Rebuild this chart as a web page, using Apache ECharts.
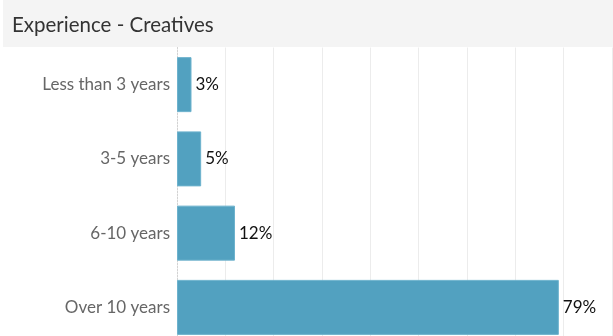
<!DOCTYPE html>
<html>
<head>
<meta charset="utf-8">
<script src="https://cdn.jsdelivr.net/npm/echarts@6/dist/echarts.min.js"></script>
<style>
  html, body { margin: 0; padding: 0; background: #fff; }
  #chart { width: 613px; height: 336px; }
</style>
</head>
<body>
<div id="chart"></div>
<script>
// Years of experience among creatives, share of respondents (%)
const categories = ['Less than 3 years', '3-5 years', '6-10 years', 'Over 10 years'];
const shares = [3, 5, 12, 79];
const axisMax = 90;
const axisStep = 10;

const chart = echarts.init(document.getElementById('chart'), null, { renderer: 'canvas' });

chart.setOption({
  animation: false,
  backgroundColor: '#ffffff',
  graphic: [{
    type: 'rect',
    shape: { x: 3, y: 0, width: 610, height: 47 },
    style: { fill: '#f4f4f4' },
    z: 0
  }],
  title: {
    text: 'Experience - Creatives',
    left: 7,
    top: 10,
    textStyle: {
      fontFamily: 'Lato',
      fontSize: 20.5,
      fontWeight: 'normal',
      color: '#333333'
    }
  },
  grid: {
    left: 177,
    right: 1,
    top: 47.5,
    height: 297,
    outerBoundsMode: 'none',
    containLabel: false
  },
  xAxis: {
    type: 'value',
    min: 0,
    max: axisMax,
    interval: axisStep,
    axisLabel: { show: false },
    axisTick: { show: false },
    axisLine: { show: false },
    splitLine: { show: true, lineStyle: { color: '#ececec', width: 1 } }
  },
  yAxis: {
    type: 'category',
    data: categories,
    inverse: true,
    axisTick: { show: false },
    axisLine: { show: true, lineStyle: { color: '#d0d0d0', type: [1, 2], width: 1 } },
    axisLabel: {
      margin: 7,
      fontFamily: 'Lato',
      fontSize: 17,
      color: '#666666'
    }
  },
  series: [{
    type: 'bar',
    data: shares,
    barWidth: 55,
    itemStyle: { color: '#52a1c0', borderColor: '#6db2cd', borderWidth: 1 },
    label: {
      show: true,
      position: 'right',
      distance: 4,
      formatter: p => p.value + '%',
      fontFamily: 'Lato',
      fontSize: 17,
      color: '#111111'
    }
  }]
});
</script>
</body>
</html>
